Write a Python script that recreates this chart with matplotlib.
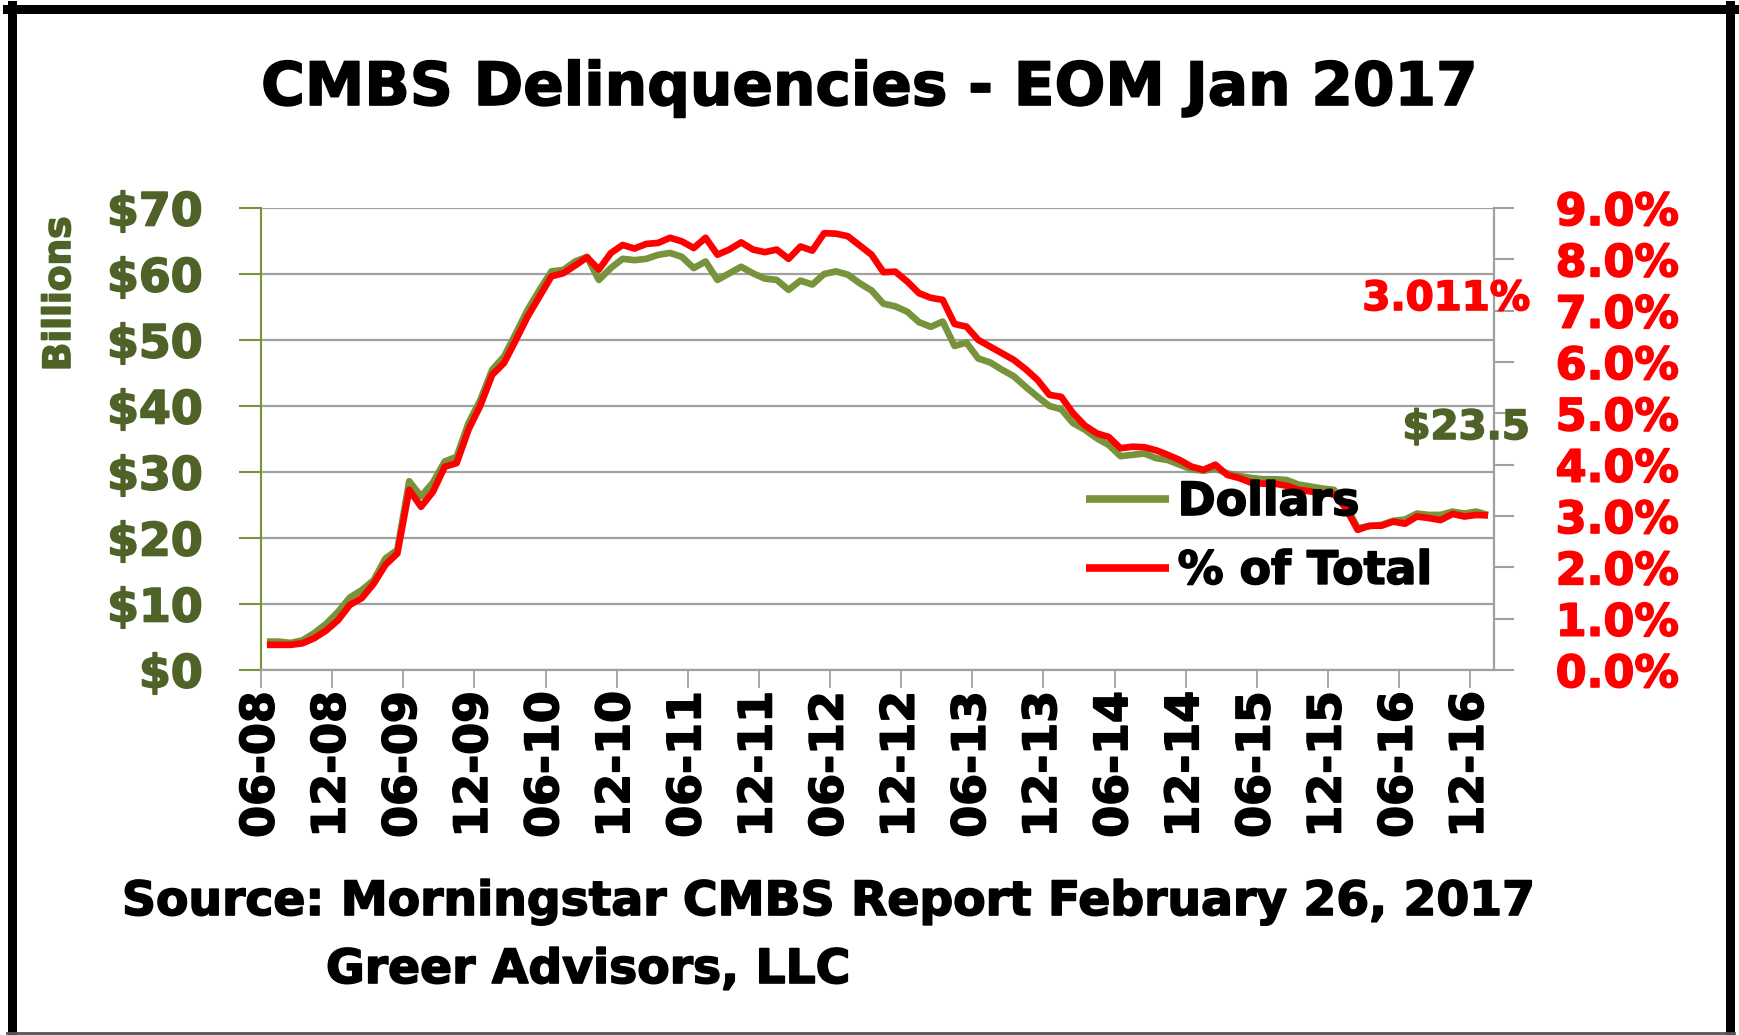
import numpy as np
import matplotlib
matplotlib.use("Agg")
import matplotlib.pyplot as plt
import matplotlib.patheffects as pe
from matplotlib.lines import Line2D

# ---------------- data ----------------
n_months = 104  # Jun 2008 .. Jan 2017

dollars = [
    4.3, 4.3, 4.1, 4.5, 5.6, 7.0, 8.8, 11.0, 12.1, 13.6, 16.9, 18.2,
    28.6, 26.3, 28.4, 31.6, 32.3, 37.4, 40.9, 45.5, 47.5, 51.0, 54.6, 57.6,
    60.4, 60.6, 61.9, 62.6, 59.1, 60.9, 62.3, 62.1, 62.3, 62.9, 63.2, 62.6,
    60.9, 61.9, 59.1, 60.1, 61.1, 60.1, 59.3, 59.1, 57.6, 59.0, 58.4, 60.0,
    60.4, 59.9, 58.6, 57.5, 55.5, 55.1, 54.3, 52.7, 52.0, 52.8, 49.1, 49.6,
    47.2, 46.6, 45.5, 44.5, 42.9, 41.4, 40.0, 39.5, 37.4, 36.4, 35.1, 34.1,
    32.4, 32.6, 32.8, 32.1, 31.8, 31.1, 30.4, 30.2, 30.5, 29.8, 29.4, 29.1,
    28.9, 28.9, 28.8, 28.1, 27.8, 27.5, 27.3, 25.0, 21.5, 21.8, 22.0, 22.6,
    22.8, 23.7, 23.5, 23.5, 24.0, 23.7, 24.0, 23.5,
]

pct_of_total = [
    0.49, 0.49, 0.49, 0.52, 0.62, 0.77, 0.97, 1.27, 1.40, 1.68, 2.05, 2.27,
    3.51, 3.18, 3.47, 3.96, 4.03, 4.68, 5.15, 5.75, 5.98, 6.43, 6.89, 7.28,
    7.67, 7.73, 7.88, 8.04, 7.80, 8.12, 8.28, 8.21, 8.30, 8.32, 8.42, 8.35,
    8.22, 8.42, 8.09, 8.19, 8.33, 8.19, 8.14, 8.19, 8.01, 8.25, 8.17, 8.51,
    8.50, 8.45, 8.27, 8.09, 7.75, 7.76, 7.57, 7.34, 7.25, 7.21, 6.74, 6.69,
    6.43, 6.30, 6.17, 6.04, 5.86, 5.65, 5.36, 5.32, 5.00, 4.76, 4.61, 4.54,
    4.32, 4.35, 4.34, 4.28, 4.19, 4.09, 3.96, 3.90, 4.00, 3.80, 3.74, 3.65,
    3.63, 3.63, 3.59, 3.51, 3.48, 3.44, 3.43, 3.15, 2.73, 2.81, 2.81, 2.89,
    2.85, 2.99, 2.96, 2.92, 3.04, 2.99, 3.02, 3.011,
]

x_tick_labels = ["06-08", "12-08", "06-09", "12-09", "06-10", "12-10",
                 "06-11", "12-11", "06-12", "12-12", "06-13", "12-13",
                 "06-14", "12-14", "06-15", "12-15", "06-16", "12-16"]
left_ticks = [0, 10, 20, 30, 40, 50, 60, 70]
right_ticks = [0, 1, 2, 3, 4, 5, 6, 7, 8, 9]

title = "CMBS Delinquencies - EOM Jan 2017"
source1 = "Source: Morningstar CMBS Report February 26, 2017"
source2 = "Greer Advisors, LLC"

# ---------------- style ----------------
GREEN = "#77933C"
DKGREEN = "#4F6228"
RED = "#FF0000"
GRID = "#A0A0A0"
FONT = "DejaVu Sans"

plt.rcParams["font.family"] = [FONT]
plt.rcParams["font.weight"] = "bold"

W, H = 1739, 1035
fig = plt.figure(figsize=(W / 100, H / 100), dpi=100)
fig.patch.set_facecolor("white")

def fx(px):
    return px / W

def fy(py):
    return 1 - py / H

def heavy(t, color, w=1.2):
    t.set_path_effects([pe.withStroke(linewidth=w, foreground=color)])
    return t

L, R, T, B = 261, 1494, 208, 670
ax = fig.add_axes([fx(L), fy(B), fx(R) - fx(L), fy(T) - fy(B)])
ax2 = ax.twinx()

x = np.arange(n_months) + 0.5
l1, = ax.plot(x, dollars, color=GREEN, lw=4.8, solid_joinstyle="round",
              solid_capstyle="butt", label="Dollars")
l2, = ax2.plot(x, pct_of_total, color=RED, lw=4.8, solid_joinstyle="round",
               solid_capstyle="butt", label="% of Total")

ax.set_xlim(0, n_months)
ax.set_ylim(0, 70)
ax2.set_ylim(0, 9)

ax.set_yticks(left_ticks)
ax.set_yticklabels(["\\$%d" % v for v in left_ticks])
ax2.set_yticks(right_ticks)
ax2.set_yticklabels(["%.1f%%" % v for v in right_ticks])
ax.set_xticks(np.arange(len(x_tick_labels)) * 6)
ax.set_xticklabels(x_tick_labels, rotation=90)

ax.yaxis.grid(True, color=GRID, lw=1.6)
ax.set_axisbelow(True)

ax.spines["top"].set_visible(False)
ax2.spines["top"].set_visible(False)
ax.spines["right"].set_visible(False)
ax2.spines["left"].set_visible(False)
ax2.spines["bottom"].set_visible(False)
ax.spines["left"].set_color(GREEN)
ax.spines["left"].set_linewidth(1.5)
ax.spines["bottom"].set_color(GRID)
ax.spines["bottom"].set_linewidth(1.6)
ax2.spines["right"].set_color(GRID)
ax2.spines["right"].set_linewidth(1.6)

ax.tick_params(axis="y", direction="out", length=15.8, width=1.5, color=GREEN,
               pad=26, labelsize=33, labelcolor=DKGREEN)
ax2.tick_params(axis="y", direction="out", length=14.4, width=1.5, color=GRID,
                pad=30, labelsize=32, labelcolor=RED)
ax.tick_params(axis="x", direction="out", length=13, width=1.3, color=GRID,
               pad=2, labelsize=33, labelcolor="black")
for lab in ax.get_yticklabels():
    lab.set_fontweight("bold")
    heavy(lab, DKGREEN)
for lab in ax2.get_yticklabels():
    lab.set_fontweight("bold")
    heavy(lab, RED)
for lab in ax.get_xticklabels():
    lab.set_fontweight("bold")
    heavy(lab, "black")

# legend
leg = ax2.legend(handles=[l1, l2], loc="upper left",
                 bbox_to_anchor=((1086 - L) / (R - L), (B - 480) / (B - T)),
                 frameon=False, fontsize=33, handlelength=1.8,
                 handletextpad=0.2, labelspacing=0.52, borderpad=0,
                 borderaxespad=0)
for t in leg.get_texts():
    t.set_fontweight("bold")
    heavy(t, "black")
for h in leg.legend_handles:
    h.set_linewidth(5.5)

# end-value labels
heavy(fig.text(fx(1530), fy(299), "%.3f%%" % pct_of_total[-1], ha="right",
               va="center", color=RED, fontsize=29, fontweight="bold"), RED)
heavy(fig.text(fx(1530), fy(428), "\\$%.1f" % dollars[-1], ha="right",
               va="center", color=DKGREEN, fontsize=29, fontweight="bold"),
      DKGREEN)

# titles and captions
heavy(fig.text(fx(870), fy(105), title, ha="center", va="baseline",
               fontsize=43, fontweight="bold", color="black"), "black")
heavy(fig.text(fx(60), fy(294), "Billions", rotation=90, ha="center",
               va="center", fontsize=27, fontweight="bold", color=DKGREEN),
      DKGREEN)
heavy(fig.text(fx(122), fy(915), source1, ha="left", va="baseline",
               fontsize=34, fontweight="bold", color="black"), "black")
heavy(fig.text(fx(326), fy(983), source2, ha="left", va="baseline",
               fontsize=34, fontweight="bold", color="black"), "black")

# outer frame
lw_frame = 9 * 72 / 100
fig.add_artist(Line2D([fx(11.5), fx(11.5)], [fy(5), fy(1035)], color="black",
                      lw=lw_frame, transform=fig.transFigure))
fig.add_artist(Line2D([fx(7), fx(1734)], [fy(9), fy(9)], color="black",
                      lw=lw_frame, transform=fig.transFigure))
fig.add_artist(Line2D([fx(1730), fx(1730)], [fy(5), fy(1035)], color="black",
                      lw=lw_frame, transform=fig.transFigure))
fig.add_artist(Line2D([fx(7), fx(1734)], [fy(1033), fy(1033)], color="#555555",
                      lw=2, transform=fig.transFigure))

fig.savefig("out.png", dpi=100)
